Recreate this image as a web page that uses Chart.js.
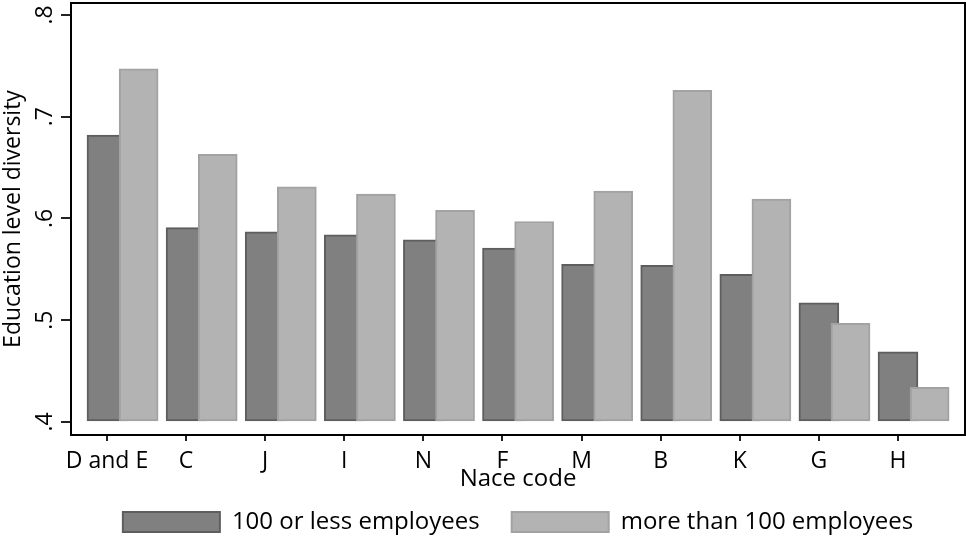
<!DOCTYPE html>
<html>
<head>
<meta charset="utf-8">
<script src="https://cdn.jsdelivr.net/npm/chart.js@4.4.1/dist/chart.umd.min.js"></script>
<style>
  html, body { margin: 0; padding: 0; background: #fff; }
  #wrap { width: 966px; height: 536px; }
</style>
</head>
<body>
<div id="wrap"><canvas id="chart"></canvas></div>
<script>
// Nace sectors, ordered as in the figure
const categories = ['D and E', 'C', 'J', 'I', 'N', 'F', 'M', 'B', 'K', 'G', 'H'];
const smallFirms = [0.682, 0.591, 0.587, 0.584, 0.579, 0.571, 0.555, 0.554, 0.545, 0.517, 0.469];
const largeFirms = [0.747, 0.663, 0.631, 0.624, 0.608, 0.597, 0.627, 0.726, 0.619, 0.497, 0.434];
const yTicks = [0.4, 0.5, 0.6, 0.7, 0.8];

// second bar sits a bit to the right of the category tick (Stata style overlap)
const shift = 0.4;

Chart.defaults.font.family = '"Open Sans", "DejaVu Sans", sans-serif';
Chart.defaults.color = '#000';

// frame round the plot area + rotated y tick labels
const framePlugin = {
    id: 'frame',
    afterDraw(chart) {
        const { ctx, chartArea: a, scales } = chart;
        ctx.save();
        ctx.strokeStyle = '#000';
        ctx.lineWidth = 2;
        ctx.strokeRect(a.left, a.top, a.right - a.left, a.bottom - a.top);

        ctx.fillStyle = '#000';
        ctx.font = '23px "Open Sans"';
        ctx.textAlign = 'center';
        ctx.textBaseline = 'middle';
        yTicks.forEach(v => {
            const py = scales.y.getPixelForValue(v);
            ctx.save();
            ctx.translate(45, py);
            ctx.rotate(-Math.PI / 2);
            ctx.fillText(v.toFixed(1).replace(/^0/, ''), 0, 0);
            ctx.restore();
        });
        ctx.restore();
    }
};

const ctx = document.getElementById('chart').getContext('2d');
const chart = new Chart(ctx, {
    type: 'bar',
    data: {
        datasets: [{
            label: '100 or less employees',
            data: smallFirms.map((v, i) => ({ x: i, y: v })),
            backgroundColor: '#808080',
            borderColor: '#5e5e5e',
            borderWidth: 2,
            borderSkipped: false,
            barThickness: 40,
            base: 0.4,
            order: 2
        }, {
            label: 'more than 100 employees',
            data: largeFirms.map((v, i) => ({ x: i + shift, y: v })),
            backgroundColor: '#b3b3b3',
            borderColor: '#a2a2a2',
            borderWidth: 2,
            borderSkipped: false,
            barThickness: 39,
            base: 0.4,
            order: 1
        }]
    },
    options: {
        responsive: true,
        maintainAspectRatio: false,
        animation: false,
        events: [],
        grouped: false,
        layout: { padding: { top: 3, right: 1, left: 0, bottom: -8 } },
        plugins: {
            legend: {
                position: 'bottom',
                fullSize: false,
                labels: {
                    boxWidth: 97,
                    boxHeight: 20,
                    padding: 32,
                    font: { size: 24 },
                    sort: (a, b) => a.datasetIndex - b.datasetIndex
                }
            },
            tooltip: { enabled: false }
        },
        scales: {
            x: {
                type: 'linear',
                offset: false,
                min: -0.455,
                max: 10.847,
                afterBuildTicks: s => { s.ticks = categories.map((c, i) => ({ value: i })); },
                afterFit: s => { s.height = 43; },
                ticks: {
                    callback: v => categories[v],
                    font: { size: 23 },
                    padding: 7,
                    maxRotation: 0,
                    autoSkip: false
                },
                grid: { offset: false, drawOnChartArea: false, tickLength: 6, color: '#222', lineWidth: 2 },
                border: { display: false },
                title: { display: true, text: 'Nace code', font: { size: 24 }, padding: { top: 0, bottom: -16 } }
            },
            y: {
                min: 0.3872,
                max: 0.8118,
                afterBuildTicks: s => { s.ticks = yTicks.map(v => ({ value: v })); },
                afterFit: s => { s.width = 71; },
                ticks: { display: false },
                grid: { drawOnChartArea: false, tickLength: 10, color: '#222', lineWidth: 2 },
                border: { display: false },
                title: { display: true, text: 'Education level diversity', font: { size: 23 }, padding: 0 }
            }
        }
    },
    plugins: [framePlugin]
});
</script>
</body>
</html>
